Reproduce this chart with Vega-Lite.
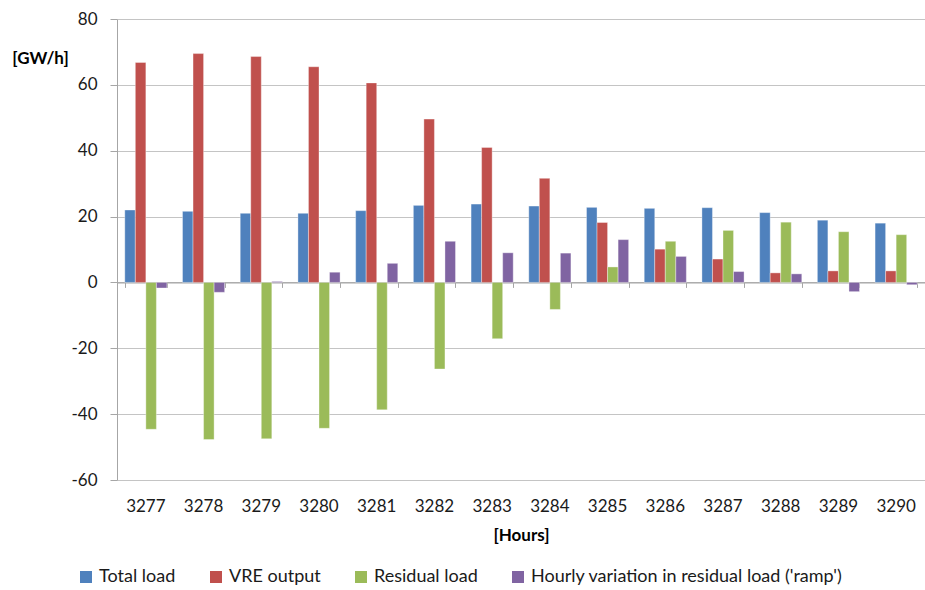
{
  "$schema": "https://vega.github.io/schema/vega-lite/v6.json",
  "width": 808,
  "height": 461,
  "autosize": "none",
  "padding": {"left": 117, "top": 19, "right": 0, "bottom": 110},
  "background": "white",
  "config": {
    "font": "Lato",
    "view": {"stroke": null},
    "axis": {"labelFont": "Lato", "titleFont": "Lato", "labelColor": "#1a1a1a", "titleColor": "#000"}
  },
  "data": {"values": [
    {"hour": "3277", "series": "Total load", "value": 22.0},
    {"hour": "3277", "series": "VRE output", "value": 66.8},
    {"hour": "3277", "series": "Residual load", "value": -44.6},
    {"hour": "3277", "series": "Hourly variation in residual load ('ramp')", "value": -1.7},
    {"hour": "3278", "series": "Total load", "value": 21.6},
    {"hour": "3278", "series": "VRE output", "value": 69.5},
    {"hour": "3278", "series": "Residual load", "value": -47.7},
    {"hour": "3278", "series": "Hourly variation in residual load ('ramp')", "value": -3.0},
    {"hour": "3279", "series": "Total load", "value": 21.0},
    {"hour": "3279", "series": "VRE output", "value": 68.6},
    {"hour": "3279", "series": "Residual load", "value": -47.5},
    {"hour": "3279", "series": "Hourly variation in residual load ('ramp')", "value": 0.3},
    {"hour": "3280", "series": "Total load", "value": 21.0},
    {"hour": "3280", "series": "VRE output", "value": 65.5},
    {"hour": "3280", "series": "Residual load", "value": -44.3},
    {"hour": "3280", "series": "Hourly variation in residual load ('ramp')", "value": 3.1},
    {"hour": "3281", "series": "Total load", "value": 21.8},
    {"hour": "3281", "series": "VRE output", "value": 60.6},
    {"hour": "3281", "series": "Residual load", "value": -38.7},
    {"hour": "3281", "series": "Hourly variation in residual load ('ramp')", "value": 5.8},
    {"hour": "3282", "series": "Total load", "value": 23.4},
    {"hour": "3282", "series": "VRE output", "value": 49.6},
    {"hour": "3282", "series": "Residual load", "value": -26.3},
    {"hour": "3282", "series": "Hourly variation in residual load ('ramp')", "value": 12.5},
    {"hour": "3283", "series": "Total load", "value": 23.8},
    {"hour": "3283", "series": "VRE output", "value": 41.0},
    {"hour": "3283", "series": "Residual load", "value": -17.1},
    {"hour": "3283", "series": "Hourly variation in residual load ('ramp')", "value": 9.0},
    {"hour": "3284", "series": "Total load", "value": 23.2},
    {"hour": "3284", "series": "VRE output", "value": 31.6},
    {"hour": "3284", "series": "Residual load", "value": -8.2},
    {"hour": "3284", "series": "Hourly variation in residual load ('ramp')", "value": 8.9},
    {"hour": "3285", "series": "Total load", "value": 22.8},
    {"hour": "3285", "series": "VRE output", "value": 18.2},
    {"hour": "3285", "series": "Residual load", "value": 4.7},
    {"hour": "3285", "series": "Hourly variation in residual load ('ramp')", "value": 13.0},
    {"hour": "3286", "series": "Total load", "value": 22.5},
    {"hour": "3286", "series": "VRE output", "value": 10.1},
    {"hour": "3286", "series": "Residual load", "value": 12.5},
    {"hour": "3286", "series": "Hourly variation in residual load ('ramp')", "value": 7.9},
    {"hour": "3287", "series": "Total load", "value": 22.7},
    {"hour": "3287", "series": "VRE output", "value": 7.1},
    {"hour": "3287", "series": "Residual load", "value": 15.8},
    {"hour": "3287", "series": "Hourly variation in residual load ('ramp')", "value": 3.3},
    {"hour": "3288", "series": "Total load", "value": 21.2},
    {"hour": "3288", "series": "VRE output", "value": 2.9},
    {"hour": "3288", "series": "Residual load", "value": 18.3},
    {"hour": "3288", "series": "Hourly variation in residual load ('ramp')", "value": 2.6},
    {"hour": "3289", "series": "Total load", "value": 18.9},
    {"hour": "3289", "series": "VRE output", "value": 3.5},
    {"hour": "3289", "series": "Residual load", "value": 15.4},
    {"hour": "3289", "series": "Hourly variation in residual load ('ramp')", "value": -2.8},
    {"hour": "3290", "series": "Total load", "value": 18.0},
    {"hour": "3290", "series": "VRE output", "value": 3.5},
    {"hour": "3290", "series": "Residual load", "value": 14.5},
    {"hour": "3290", "series": "Hourly variation in residual load ('ramp')", "value": -0.7}
  ]},
  "layer": [
    {
      "mark": {"type": "bar", "stroke": "#ffffff", "strokeWidth": 0.6, "strokeOpacity": 0.6},
      "encoding": {
        "x": {
          "field": "hour", "type": "ordinal",
          "scale": {"paddingInner": 0.27, "paddingOuter": 0.135},
          "axis": {
            "title": "[Hours]", "titleFontWeight": "bold", "titleFontSize": 17, "titlePadding": 13,
            "labelAngle": 0, "labelFontSize": 17, "labelPadding": 18,
            "domain": false, "ticks": false
          }
        },
        "xOffset": {
          "field": "series", "type": "nominal",
          "scale": {"domain": ["Total load", "VRE output", "Residual load", "Hourly variation in residual load ('ramp')"], "paddingInner": 0}
        },
        "y": {
          "field": "value", "type": "quantitative",
          "scale": {"domain": [-60, 80], "nice": false},
          "axis": {
            "values": [-60, -40, -20, 0, 20, 40, 60, 80],
            "labelExpr": "toString(datum.value)",
            "title": "[GW/h]", "titleAngle": 0, "titleFontWeight": "bold", "titleFontSize": 17,
            "titleX": -77, "titleY": 39, "titleAlign": "center", "titleBaseline": "middle",
            "labelFontSize": 17, "labelPadding": 13, "tickSize": 7,
            "tickColor": "#a6a6a6", "domainColor": "#a6a6a6",
            "gridColor": "#c4c4c4", "gridWidth": 1.2
          }
        },
        "color": {
          "field": "series", "type": "nominal",
          "scale": {
            "domain": ["Total load", "VRE output", "Residual load", "Hourly variation in residual load ('ramp')"],
            "range": ["#4F81BD", "#C0504D", "#9BBB59", "#8064A2"]
          },
          "legend": {
            "title": null, "orient": "none", "direction": "horizontal",
            "legendX": -40, "legendY": 549,
            "symbolType": "square", "symbolSize": 144, "symbolStrokeWidth": 0,
            "labelFontSize": 18, "labelColor": "#1a1a1a", "labelLimit": 0,
            "columnPadding": 31, "labelOffset": 4
          }
        }
      }
    },
    {
      "mark": {"type": "rule", "opacity": 0},
      "encoding": {
        "x": {
          "field": "hour", "type": "ordinal",
          "axis": {
            "orient": "bottom", "offset": -197.6, "labels": false, "title": null,
            "ticks": true, "tickBand": "extent", "tickSize": 5, "tickColor": "#a6a6a6",
            "domain": true, "domainColor": "#a6a6a6", "domainWidth": 1.2
          }
        },
        "y": {"datum": 0},
        "y2": {"datum": 0}
      }
    }
  ],
  "resolve": {"axis": {"x": "independent"}}
}
